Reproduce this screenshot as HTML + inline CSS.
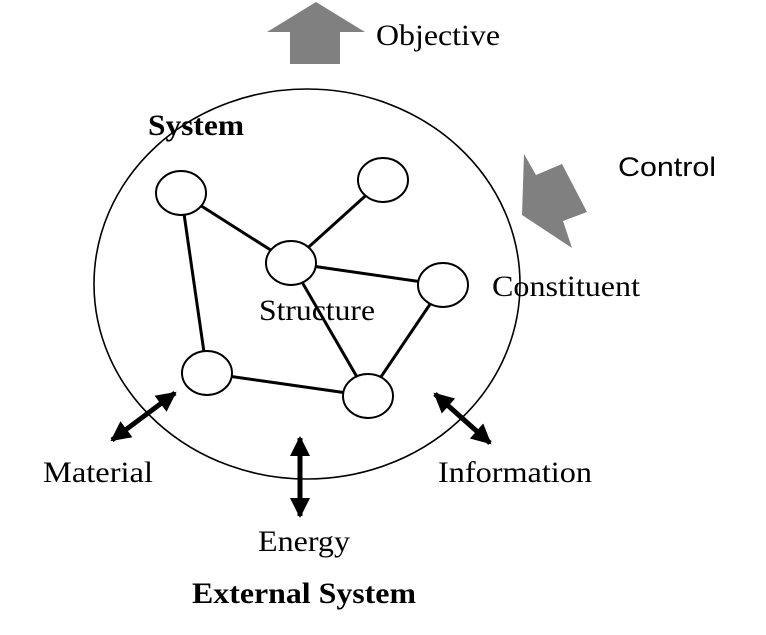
<!DOCTYPE html>
<html><head><meta charset="utf-8"><style>
body{margin:0;background:#fff}
svg text{font-family:"Liberation Serif",serif;font-size:30px;fill:#000}
</style></head><body>
<svg width="766" height="630" viewBox="0 0 766 630">
<defs>
<marker id="ah" viewBox="0 0 10 10" refX="9" refY="5" markerWidth="4.8" markerHeight="4" orient="auto-start-reverse"><path d="M0,0 L10,5 L0,10 z" fill="#000"/></marker>
</defs>
<ellipse cx="307" cy="284" rx="213" ry="195" fill="none" stroke="#000" stroke-width="1.6"/>
<polygon points="267,32 316,2 365,32 340,32 340,64 290,64 290,32" fill="#808080"/>
<polygon points="524,154 536,175 562,164 587,212 563,221 572,248 522,215" fill="#808080"/>
<g stroke="#000" stroke-width="3">
<line x1="181" y1="193" x2="291" y2="263"/>
<line x1="383" y1="180" x2="291" y2="263"/>
<line x1="291" y1="263" x2="443" y2="285"/>
<line x1="291" y1="263" x2="368" y2="396"/>
<line x1="443" y1="285" x2="368" y2="396"/>
<line x1="181" y1="193" x2="207" y2="373"/>
<line x1="207" y1="373" x2="368" y2="396"/>
</g>
<g fill="#fff" stroke="#000" stroke-width="2">
<ellipse cx="181" cy="193" rx="25" ry="22"/>
<ellipse cx="383" cy="180" rx="25" ry="22"/>
<ellipse cx="291" cy="263" rx="25" ry="22"/>
<ellipse cx="443" cy="285" rx="25" ry="22"/>
<ellipse cx="207" cy="373" rx="25" ry="22"/>
<ellipse cx="368" cy="396" rx="25" ry="22"/>
</g>
<g stroke="#000" stroke-width="5" fill="none">
<line x1="112" y1="440" x2="175" y2="393" marker-start="url(#ah)" marker-end="url(#ah)"/>
<line x1="300" y1="438" x2="300" y2="516" marker-start="url(#ah)" marker-end="url(#ah)"/>
<line x1="435" y1="394" x2="490" y2="443" marker-start="url(#ah)" marker-end="url(#ah)"/>
</g>
<text x="376" y="45" textLength="124" lengthAdjust="spacingAndGlyphs">Objective</text>
<text x="148" y="135" font-weight="bold" textLength="96" lengthAdjust="spacingAndGlyphs">System</text>
<text x="618" y="176" style="font-family:'Liberation Sans',sans-serif;font-size:27px" textLength="98" lengthAdjust="spacingAndGlyphs">Control</text>
<text x="492" y="296" textLength="148" lengthAdjust="spacingAndGlyphs">Constituent</text>
<text x="259" y="320" textLength="116" lengthAdjust="spacingAndGlyphs">Structure</text>
<text x="43" y="482" textLength="110" lengthAdjust="spacingAndGlyphs">Material</text>
<text x="438" y="482" textLength="154" lengthAdjust="spacingAndGlyphs">Information</text>
<text x="258" y="551" textLength="92" lengthAdjust="spacingAndGlyphs">Energy</text>
<text x="192" y="603" font-weight="bold" textLength="224" lengthAdjust="spacingAndGlyphs">External System</text>
</svg>
</body></html>
